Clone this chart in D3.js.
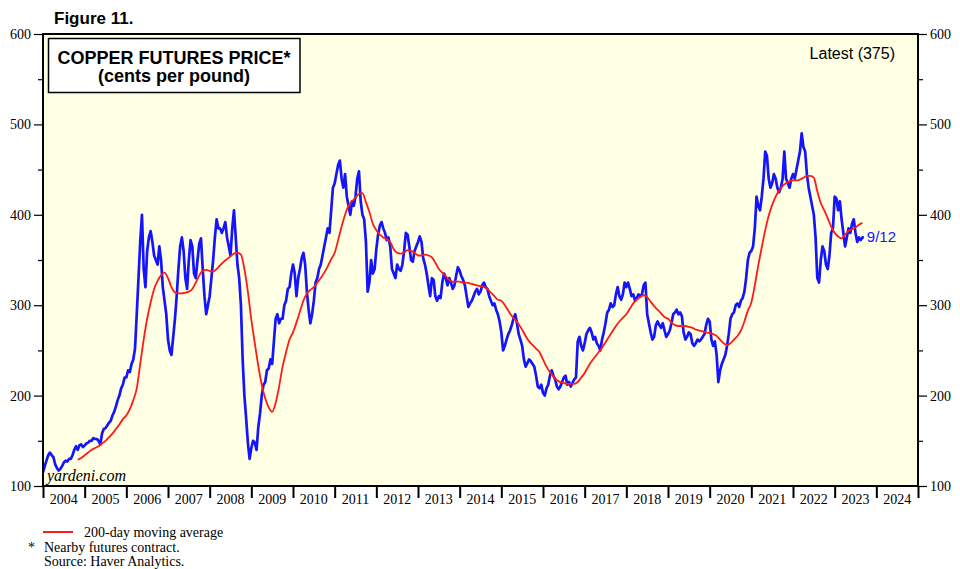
<!DOCTYPE html>
<html>
<head>
<meta charset="utf-8">
<script src="https://cdn.jsdelivr.net/npm/d3@7"></script>
<style>
  html, body { margin: 0; padding: 0; background: #ffffff; }
  svg { display: block; }
</style>
</head>
<body>
<svg id="chart" width="960" height="569"></svg>
<script>
// ---------- DATA (cents per pound) ----------
// Copper futures price, semi-monthly readings (24 per year, from 1 Jan)
const price2004 = [115,122,128,134,137,134,132,124,120,117,119,122,126,128,127,130,130,134,140,144,140,145,146,143];
const price2005 = [145,147,148,150,150,153,152,152,150,146,158,163,164,167,170,172,178,182,188,195,200,208,212,220];
const price2006 = [220,228,226,235,240,252,290,330,370,400,340,320,360,375,382,370,355,350,345,365,350,320,305,290];
const price2007 = [262,250,245,265,285,310,340,365,375,360,330,318,350,372,365,335,330,350,368,374,340,310,290,300];
const price2008 = [310,330,350,375,395,385,385,380,385,392,375,365,355,385,405,375,345,330,300,240,200,175,148,130];
const price2009 = [142,150,148,140,165,180,200,212,215,228,230,240,235,260,285,290,280,285,285,300,305,318,320,335];
const price2010 = [345,335,310,330,340,352,358,345,315,295,280,290,305,325,330,340,345,355,365,375,385,380,405,430];
const price2011 = [435,445,455,460,440,430,445,420,410,400,415,410,420,440,448,415,400,395,370,315,325,350,335,340];
const price2012 = [362,378,388,392,385,380,372,375,365,340,335,330,345,340,338,345,360,380,378,365,350,348,360,365];
const price2013 = [370,376,370,352,345,335,322,310,330,328,310,305,310,308,325,335,330,322,330,325,318,322,333,342];
const price2014 = [338,332,328,322,310,298,302,305,310,315,318,312,315,322,325,320,318,310,305,300,302,295,290,282];
const price2015 = [270,250,255,262,268,272,278,285,290,280,268,262,255,240,232,236,240,238,235,232,222,210,208,212];
const price2016 = [203,200,208,212,222,228,222,218,210,207,210,215,220,222,212,215,210,214,218,220,260,265,255,250];
const price2017 = [258,268,272,275,270,262,265,258,255,250,262,270,280,292,295,302,298,300,312,320,310,306,312,325];
const price2018 = [320,325,318,310,312,305,308,312,310,312,322,325,290,280,270,262,265,278,282,278,275,280,272,265];
const price2019 = [268,272,280,290,292,295,290,292,288,270,262,265,270,268,258,255,258,262,260,262,265,268,278,285];
const price2020 = [282,262,255,260,245,215,228,235,240,245,255,268,285,290,292,300,302,298,305,308,315,330,350,358];
const price2021 = [360,365,385,420,410,405,420,440,470,465,440,430,435,445,440,430,425,430,440,470,440,435,430,440];
const price2022 = [445,440,450,460,470,490,475,470,445,430,420,410,400,375,330,325,350,365,360,345,340,355,380,385];
const price2023 = [420,418,405,415,395,380,365,375,385,380,390,395,380,370,375,372,375];
const latestDate = 2023.70;   // 9/12/2023
const latestValue = 375;

// 200-day moving average, monthly readings from Nov 2004
const maStart = 2004 + 10/12;
const ma2004 = [129,131];
const ma2005 = [134,137,140,142,144,147,150,154,158,163,168,174];
const ma2006 = [178,185,195,208,235,262,285,303,318,327,333,336];
const ma2007 = [330,320,314,313,313,314,315,318,325,333,338,339];
const ma2008 = [338,337,340,344,348,351,354,357,358,356,340,315];
const ma2009 = [284,258,233,212,197,187,182,192,210,232,248,262];
const ma2010 = [270,281,293,305,313,317,320,325,330,336,343,351];
const ma2011 = [358,372,387,400,410,415,419,423,424,414,403,390];
const ma2012 = [383,378,375,373,370,362,358,357,358,361,360,358];
const ma2013 = [355,355,356,355,353,347,340,336,332,328,326,326];
const ma2014 = [326,325,325,324,323,322,321,320,318,314,310,306];
const ma2015 = [305,300,294,288,284,279,273,266,260,256,252,248];
const ma2016 = [240,232,226,221,217,215,214,213,213,213,215,220];
const ma2017 = [225,232,238,243,248,253,259,265,271,277,282,286];
const ma2018 = [290,296,302,306,309,311,309,304,299,295,291,287];
const ma2019 = [285,281,278,277,277,277,276,275,273,272,271,270];
const ma2020 = [269,268,266,262,258,256,258,262,266,272,282,294];
const ma2021 = [303,322,344,364,383,399,411,420,427,432,435,437];
const ma2022 = [438,438,439,441,443,443,441,426,413,405,396,387];
const ma2023 = [380,376,374,378,382,384,386,389,391];

const years = d3.range(2004, 2025);          // tick labels
const yMajor = [100, 200, 300, 400, 500, 600];
const yMinor = [150, 250, 350, 450, 550];

// ---------- BUILD SERIES ----------
const priceYears = [price2004,price2005,price2006,price2007,price2008,price2009,price2010,price2011,price2012,price2013,
  price2014,price2015,price2016,price2017,price2018,price2019,price2020,price2021,price2022,price2023];
const price = [];
priceYears.forEach((arr, k) => arr.forEach((v, i) => price.push({t: 2004 + k + i/24, v})));
price.push({t: latestDate, v: latestValue});

const maAll = [].concat(ma2004,ma2005,ma2006,ma2007,ma2008,ma2009,ma2010,ma2011,ma2012,ma2013,
  ma2014,ma2015,ma2016,ma2017,ma2018,ma2019,ma2020,ma2021,ma2022,ma2023);
const ma = maAll.map((v, i) => ({t: maStart + i/12, v}));

// ---------- LAYOUT ----------
const svg = d3.select("#chart");
const L = 43, R = 918, T = 34, B = 486;
const x = d3.scaleLinear().domain([2004, 2025]).range([L, R]);
const y = d3.scaleLinear().domain([100, 600]).range([B, T]);
const serif = "'Liberation Serif', 'Times New Roman', serif";
const sans = "'Liberation Sans', Arial, Helvetica, sans-serif";

svg.append("rect").attr("x", L).attr("y", T).attr("width", R - L).attr("height", B - T)
  .attr("fill", "#ffffe3");

// Lines
svg.append("clipPath").attr("id", "clip").append("rect")
  .attr("x", L).attr("y", T).attr("width", R - L).attr("height", B - T);
const line = d3.line().x(d => x(d.t)).y(d => y(d.v));
svg.append("path").datum(price).attr("d", line).attr("fill", "none")
  .attr("stroke", "#1414ff").attr("stroke-width", 2.7).attr("stroke-linejoin", "round")
  .attr("clip-path", "url(#clip)");
svg.append("path").datum(ma).attr("d", d3.line().curve(d3.curveMonotoneX).x(d => x(d.t)).y(d => y(d.v)))
  .attr("fill", "none").attr("stroke", "#ff1a1a").attr("stroke-width", 1.8)
  .attr("clip-path", "url(#clip)");

// Frame
svg.append("rect").attr("x", L).attr("y", T).attr("width", R - L).attr("height", B - T)
  .attr("fill", "none").attr("stroke", "#000").attr("stroke-width", 2);

// Y axes
const yAxisL = d3.axisLeft(y).tickValues(yMajor).tickSize(9).tickFormat(d3.format("d"));
const gL = svg.append("g").attr("transform", `translate(${L},0)`).call(yAxisL);
const yAxisR = d3.axisRight(y).tickValues(yMajor).tickSize(9).tickFormat(d3.format("d"));
const gR = svg.append("g").attr("transform", `translate(${R},0)`).call(yAxisR);
[gL, gR].forEach(g => {
  g.select(".domain").remove();
  g.selectAll("line").attr("stroke", "#000").attr("stroke-width", 1.2);
  g.selectAll("text").attr("font-family", serif).attr("font-size", 14).attr("fill", "#000");
});
gL.selectAll("text").attr("x", -12);
gR.selectAll("text").attr("x", 12);
svg.append("g").attr("transform", `translate(${L},0)`)
  .call(d3.axisLeft(y).tickValues(yMinor).tickSize(5).tickFormat(""))
  .call(g => g.select(".domain").remove())
  .selectAll("line").attr("stroke", "#000").attr("stroke-width", 1.2);
svg.append("g").attr("transform", `translate(${R},0)`)
  .call(d3.axisRight(y).tickValues(yMinor).tickSize(5).tickFormat(""))
  .call(g => g.select(".domain").remove())
  .selectAll("line").attr("stroke", "#000").attr("stroke-width", 1.2);

// X axis: ticks at year boundaries, labels centred within each year
const gX = svg.append("g").attr("transform", `translate(0,${B})`)
  .call(d3.axisBottom(x).tickValues(d3.range(2004, 2026)).tickSize(12).tickFormat(""));
gX.select(".domain").remove();
gX.selectAll("line").attr("stroke", "#000").attr("stroke-width", 2);
svg.append("g").selectAll("text").data(years).join("text")
  .attr("x", d => x(d + 0.5)).attr("y", 504)
  .attr("text-anchor", "middle").attr("font-family", serif).attr("font-size", 14)
  .text(d => d);

// Figure label
svg.append("text").attr("x", 54).attr("y", 24).attr("font-family", sans)
  .attr("font-weight", "bold").attr("font-size", 17).text("Figure 11.");

// Title box
svg.append("rect").attr("x", 48.5).attr("y", 38.5).attr("width", 251.5).attr("height", 54)
  .attr("fill", "#fff").attr("stroke", "#000").attr("stroke-width", 1.5);
svg.append("text").attr("x", 174).attr("y", 63.5).attr("text-anchor", "middle")
  .attr("font-family", sans).attr("font-weight", "bold").attr("font-size", 18)
  .text("COPPER FUTURES PRICE*");
svg.append("text").attr("x", 174).attr("y", 82).attr("text-anchor", "middle")
  .attr("font-family", sans).attr("font-weight", "bold").attr("font-size", 18)
  .text("(cents per pound)");

// Latest
svg.append("text").attr("x", 895).attr("y", 59).attr("text-anchor", "end")
  .attr("font-family", sans).attr("font-size", 16).text(`Latest (${latestValue})`);
svg.append("text").attr("x", x(latestDate) + 3).attr("y", y(latestValue) + 5)
  .attr("font-family", sans).attr("font-size", 15).attr("fill", "#1414ff").text("9/12");

// Watermark
svg.append("text").attr("x", 47).attr("y", 481).attr("font-family", serif)
  .attr("font-style", "italic").attr("font-size", 16).text("yardeni.com");

// Legend & notes
svg.append("line").attr("x1", 43).attr("x2", 73).attr("y1", 532).attr("y2", 532)
  .attr("stroke", "#ff1a1a").attr("stroke-width", 2);
svg.append("text").attr("x", 84).attr("y", 537).attr("font-family", serif)
  .attr("font-size", 14).text("200-day moving average");
svg.append("text").attr("x", 28).attr("y", 552).attr("font-family", serif)
  .attr("font-size", 14).text("*");
svg.append("text").attr("x", 44).attr("y", 552).attr("font-family", serif)
  .attr("font-size", 14).text("Nearby futures contract.");
svg.append("text").attr("x", 44).attr("y", 566).attr("font-family", serif)
  .attr("font-size", 14).text("Source: Haver Analytics.");
</script>
</body>
</html>
